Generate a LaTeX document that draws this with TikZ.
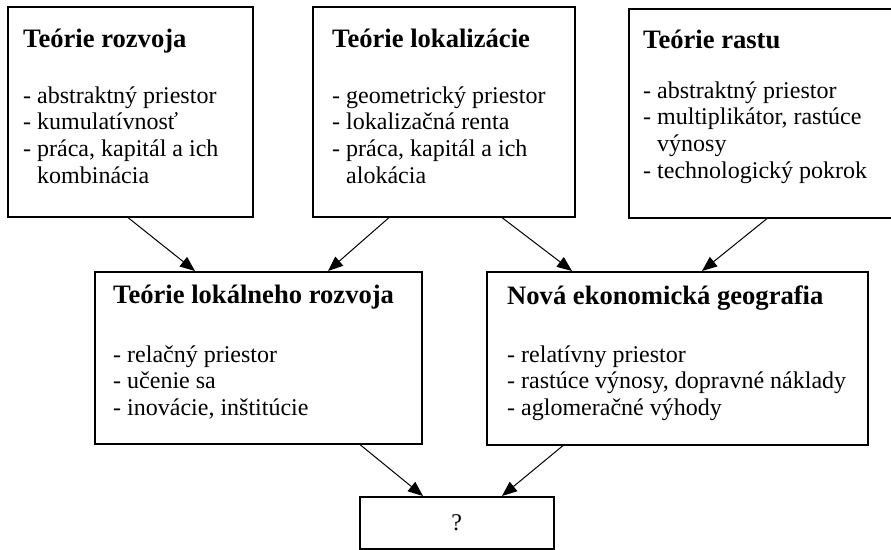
\documentclass[tikz,border=0pt]{standalone}
\usepackage{fontspec}
\setmainfont{Liberation Serif}
\usetikzlibrary{arrows.meta}

\begin{document}
\begin{tikzpicture}[x=1pt,y=-1pt,
  box/.style={draw,line width=1.6pt,rectangle,anchor=north west,inner sep=0pt},
  title/.style={anchor=base west,inner sep=0pt,font=\fontsize{26.6}{30}\selectfont\bfseries},
  items/.style={anchor=base west,inner sep=0pt,font=\fontsize{24}{26.7}\selectfont},
  link/.style={line width=1pt,-{Triangle[length=15pt,width=12pt]}}]
\newcommand\itemlist[1]{\begin{tabular}[t]{@{}l@{}}#1\end{tabular}}
\newcommand\cont{\hphantom{-}\ }

\useasboundingbox (0,0) rectangle (891,549);

% boxes
\node[box,minimum width=245pt,minimum height=210pt] (b1) at (7,6) {};
\node[box,minimum width=262pt,minimum height=210pt] (b2) at (312,6) {};
\node[box,minimum width=270pt,minimum height=209pt] (b3) at (628,8) {};
\node[box,minimum width=327pt,minimum height=172pt] (b4) at (94,271) {};
\node[box,minimum width=381pt,minimum height=173pt] (b5) at (486,271) {};
\node[box,minimum width=194pt,minimum height=52pt] (b6) at (359,496) {};

% texts
\node[title] (t1) at (23,47) {Teórie rozvoja};
\node[items] (l1) at (23,103) {\itemlist{- abstraktný priestor\\- kumulatívnosť\\- práca, kapitál a ich\\\cont kombinácia}};

\node[title] (t2) at (332,47) {Teórie lokalizácie};
\node[items] (l2) at (332,103) {\itemlist{- geometrický priestor\\- lokalizačná renta\\- práca, kapitál a ich\\\cont alokácia}};

\node[title] (t3) at (643,48) {Teórie rastu};
\node[items] (l3) at (643,98) {\itemlist{- abstraktný priestor\\- multiplikátor, rastúce\\\cont výnosy\\- technologický pokrok}};

\node[title] (t4) at (113,303) {Teórie lokálneho rozvoja};
\node[items] (l4) at (113,362) {\itemlist{- relačný priestor\\- učenie sa\\- inovácie, inštitúcie}};

\node[title] (t5) at (507,304) {Nová ekonomická geografia};
\node[items] (l5) at (507,362) {\itemlist{- relatívny priestor\\- rastúce výnosy, dopravné náklady\\- aglomeračné výhody}};

\node[items,anchor=center] (t6) at (b6.center) {?};

% connectors
\draw[link] ([xshift=121pt]b1.south west) -- ([xshift=101pt]b4.north west);
\draw[link] ([xshift=77pt]b2.south west) -- ([xshift=234pt]b4.north west);
\draw[link] ([xshift=190pt]b2.south west) -- ([xshift=86pt]b5.north west);
\draw[link] ([xshift=139pt]b3.south west) -- ([xshift=216pt]b5.north west);
\draw[link] ([xshift=266pt]b4.south west) -- ([xshift=64pt]b6.north west);
\draw[link] ([xshift=77pt]b5.south west) -- ([xshift=143pt]b6.north west);
\end{tikzpicture}
\end{document}
